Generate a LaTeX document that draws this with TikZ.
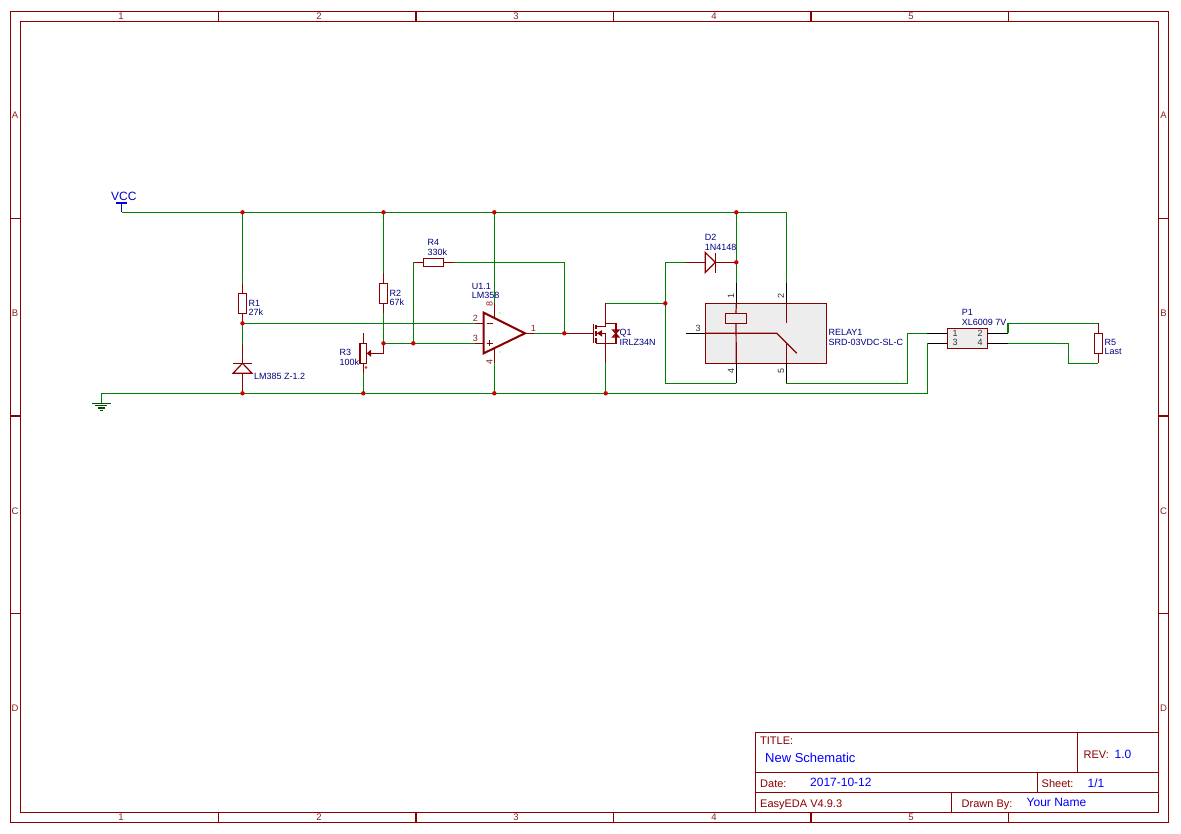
\documentclass[tikz,border=0pt]{standalone}
\usepackage{fontspec}
\setmainfont{Liberation Sans}
\usetikzlibrary{calc}
\definecolor{wiregreen}{HTML}{008000}
\definecolor{partred}{HTML}{880000}
\definecolor{dotred}{HTML}{CC0000}
\definecolor{labelblue}{HTML}{000080}
\definecolor{titleblue}{HTML}{0000FF}
\definecolor{pinred}{HTML}{8C2020}
\tikzset{wire/.style={color=wiregreen, line width=1.2pt},
lead/.style={color=partred, line width=1.2pt},
pinline/.style={color=black, line width=1.2pt},
junction/.style={circle,fill=dotred,inner sep=0pt,minimum size=4.4pt},
resv/.style={rectangle,draw=partred,line width=1.2pt,inner sep=0pt,outer sep=0pt,minimum width=8pt,minimum height=20pt},
resh/.style={resv,minimum width=20pt,minimum height=8pt},
chip/.style={resv,fill=black!7},
faint/.style={rectangle,fill=green!25!white,inner sep=0pt,minimum size=2pt},
txt/.style={inner sep=0pt,anchor=base west,text=labelblue,font=\fontsize{9}{9}\selectfont},
pin/.style={txt,text=pinred},
blackpin/.style={txt,text=black!80},
vpin/.style={pin,anchor=center,rotate=90},
vblack/.style={blackpin,anchor=center,rotate=90},
edge/.style={inner sep=0pt,text=pinred,font=\fontsize{9.5}{9.5}\selectfont},
sheet/.style={txt,text=partred,font=\fontsize{11}{11}\selectfont},
entry/.style={txt,text=titleblue,font=\fontsize{12}{12}\selectfont},
frame/.style={draw=partred,line width=1.2pt}}
\begin{document}
\begin{tikzpicture}[x=1pt,y=-1pt]
  \useasboundingbox (0,0) rectangle (1181,833);
  \draw [frame] (10.5,11.5) rectangle (1168.5,822.5);
  \draw [frame] (20.5,21.5) rectangle (1158.5,812.5);
  \foreach \x in {218.5,416,613.5,811,1008.5} {
    \draw [frame] (\x,11.5) -- (\x,21.5);
    \draw [frame] (\x,812.5) -- (\x,822.5);
  }
  \foreach \y in {218.5,416,613.5} {
    \draw [frame] (10.5,\y) -- (20.5,\y);
    \draw [frame] (1158.5,\y) -- (1168.5,\y);
  }
  \foreach \n/\x in {1/121,2/319,3/516,4/714,5/911} {
    \node (top\n) [edge] at (\x,16.5) {\n};
    \node (bot\n) [edge] at (\x,817.5) {\n};
  }
  \foreach \n/\y in {A/115.5,B/313.5,C/511,D/708.5} {
    \node (left\n) [edge] at (15,\y) {\n};
    \node (right\n) [edge] at (1163.5,\y) {\n};
  }

  \draw [frame,fill=white] (755.5,732.5) rectangle (1158.5,812.5);
  \draw [frame] (755.5,772.5) -- (1158.5,772.5);
  \draw [frame] (755.5,792.5) -- (1158.5,792.5);
  \draw [frame] (1077.5,732.5) -- (1077.5,772.5);
  \draw [frame] (1037.5,772.5) -- (1037.5,792.5);
  \draw [frame] (951.5,792.5) -- (951.5,812.5);
  \node (title) [sheet] at (760,744) {TITLE:};
  \node (name) [entry,font=\fontsize{13}{13}\selectfont] at (765,762) {New Schematic};
  \node (rev) [sheet] at (1083.5,758) {REV:};
  \node (revno) [entry] at (1114.5,758) {1.0};
  \node (date) [sheet] at (760,787) {Date:};
  \node (dateval) [entry] at (810,786.5) {2017-10-12};
  \node (sheetno) [sheet] at (1041.5,787) {Sheet:};
  \node (sheetval) [entry] at (1087.5,787) {1/1};
  \node (tool) [sheet] at (760,807) {EasyEDA V4.9.3};
  \node (drawn) [sheet] at (961.5,807) {Drawn By:};
  \node (author) [entry] at (1026.5,806.5) {Your Name};

  \coordinate (vcc) at (121.5,203);
  \coordinate (vccb) at (121.5,212.3);
  \coordinate (gnd) at (101.3,393.3);
  \coordinate (gndb) at (101.3,403.3);
  \coordinate (j1) at (242.5,212.3);
  \coordinate (j2) at (383.5,212.3);
  \coordinate (j3) at (494.3,212.3);
  \coordinate (j4) at (736.3,212.3);
  \coordinate (j5) at (242.5,323.3);
  \coordinate (j6) at (383.5,343.3);
  \coordinate (j7) at (413.3,343.3);
  \coordinate (j8) at (564.3,333.3);
  \coordinate (j9) at (665.3,303.3);
  \coordinate (j10) at (736.3,262.3);
  \coordinate (j11) at (242.5,393.3);
  \coordinate (j12) at (363.3,393.3);
  \coordinate (j13) at (494.3,393.3);
  \coordinate (j14) at (605.7,393.3);

  \draw [blue!80!black,line width=1.2pt] (vcc) -- (vccb);
  \draw [blue!80!black,line width=1.2pt] ($(vcc)+(-5.5,0)$) -- ($(vcc)+(5.5,0)$);
  \node (vcclabel) [txt,text=blue!80!black,font=\fontsize{12}{12}\selectfont] at (111,200) {VCC};
  \draw [wire] (gndb) -- (gnd);
  \draw [lead,color=black!70!green] ($(gndb)+(-9.5,0)$) -- ($(gndb)+(9.5,0)$);
  \draw [lead,color=black!70!green] ($(gndb)+(-6,2.4)$) -- ($(gndb)+(6,2.4)$);
  \draw [lead,color=black!70!green] ($(gndb)+(-3.5,4.6)$) -- ($(gndb)+(3.5,4.6)$);
  \draw [lead,color=black!70!green] ($(gndb)+(-1.6,6.8)$) -- ($(gndb)+(1.6,6.8)$);

  \node (r1) [resv] at (242.5,303.3) {};
  \draw [lead] (r1.north) -- ++(0,-9.3) coordinate (r1a);
  \draw [lead] (r1.south) -- (j5);
  \node (r1n) [txt] at (248.5,306) {R1};
  \node (r1v) [txt] at (248.5,315) {27k};
  \coordinate (z1) at (242.5,363.3);
  \coordinate (z1a) at (242.5,344);
  \draw [lead] (z1a) -- (z1);
  \draw [lead] ($(z1)+(-9.5,0)$) -- ($(z1)+(9.5,0)$);
  \draw [lead] (z1) -- ($(z1)+(-9.5,10)$) -- ($(z1)+(9.5,10)$) -- cycle;
  \draw [lead] ($(z1)+(0,10)$) -- (j11);
  \node (z1n) [txt] at (254,379.3) {LM385 Z-1.2};

  \node (r2) [resv] at (383.5,293.3) {};
  \draw [lead] (r2.north) -- ++(0,-10) coordinate (r2a);
  \draw [lead] (r2.south) -- ++(0,9.4) coordinate (r2b);
  \node (r2n) [txt] at (389.3,296) {R2};
  \node (r2v) [txt] at (389.3,305) {67k};
  \node (r3) [resv,minimum width=6.7pt] at (363.3,353.3) {};
  \draw [lead] (r3.north) -- ++(0,-10);
  \draw [lead] (r3.south) -- ++(0,9.7) coordinate (r3b);
  \coordinate (r3w) at (383.5,353.3);
  \draw [lead] (j6) -- (r3w) -- (370.5,353.3);
  \fill [partred] (366.7,353.3) -- (371,349.8) -- (371,356.8) -- cycle;
  \node (r3dot) [circle,draw=dotred,line width=.5pt,inner sep=0pt,minimum size=2pt] at (366,367.4) {};
  \node (r3n) [txt] at (339.3,355.7) {R3};
  \node (r3v) [txt] at (339.3,365) {100k};

  \node (r4) [resh] at (433.5,262.3) {};
  \draw [lead] (r4.west) -- ++(-10,0) coordinate (r4a);
  \draw [lead] (r4.east) -- ++(10,0) coordinate (r4b);
  \node (r4n) [txt] at (427.3,245.7) {R4};
  \node (r4v) [txt] at (427.3,255) {330k};

  \coordinate (u1a) at (483.7,312.7);
  \coordinate (u1b) at (525,333.3);
  \coordinate (u1c) at (483.7,353.3);
  \coordinate (u1p2) at (475,323.3);
  \coordinate (u1p3) at (475,343.3);
  \coordinate (u1p1) at (533.5,333.3);
  \coordinate (u1p8) at (494.3,303.3);
  \coordinate (u1p4) at (494.3,363.3);
  \draw [lead] (u1p2) -- (483.7,323.3);
  \draw [lead] (u1p3) -- (483.7,343.3);
  \draw [lead] (u1b) -- (u1p1);
  \draw [lead] (u1p8) -- (494.3,318);
  \draw [lead] (u1p4) -- (494.3,348);
  \draw [lead,line width=2pt] (u1a) -- (u1b) -- (u1c) -- cycle;
  \draw [lead] (486.5,323.3) -- (492.5,323.3);
  \draw [lead] (486.5,343.3) -- (492.5,343.3);
  \draw [lead] (489.5,340.3) -- (489.5,346.3);
  \node (u1n) [txt] at (471.7,289) {U1.1};
  \node (u1v) [txt] at (471.7,298) {LM358};
  \node (pin2) [pin] at (472.7,321.7) {2};
  \node (pin3) [pin] at (472.7,341.7) {3};
  \node (pin1) [pin] at (530.7,331.7) {1};
  \node (pin8) [vpin] at (489.5,304) {8};
  \node (pin4) [vpin] at (489.5,361.5) {4};
  \node (mark8) [faint] at (500,312.5) {};
  \node (mark4) [faint] at (500,351.5) {};

  \coordinate (q1g) at (593.3,333.3);
  \coordinate (q1d) at (605.7,303.3);
  \coordinate (q1s) at (605.7,363);
  \draw [lead] (j8) -- (q1g);
  \draw [lead] (593.3,324) -- (593.3,343);
  \draw [lead] (596,324.5) -- (596,329);
  \draw [lead] (596,331) -- (596,336);
  \draw [lead] (596,338) -- (596,343);
  \draw [lead] (596,326.5) -- (605.7,326.5);
  \draw [lead] (q1d) -- (605.7,326.5);
  \draw [lead] (596,343.3) -- (605.7,343.3) -- (q1s);
  \draw [lead] (596,333.3) -- (605.7,333.3) -- (605.7,343.3);
  \fill [partred] (597,333.3) -- (602,330) -- (602,336.6) -- cycle;
  \draw [lead] (605.7,323.3) -- (616,323.3) -- (616,343.3) -- (605.7,343.3);
  \draw [lead] (612.7,330) -- (618.9,330) -- (612.7,337) -- (618.9,337) -- cycle;
  \node (q1n) [txt] at (619.5,335.7) {Q1};
  \node (q1v) [txt] at (619.5,345) {IRLZ34N};

  \coordinate (d2a) at (705.3,262.3);
  \coordinate (d2k) at (715.3,262.3);
  \draw [lead] (686,262.3) coordinate (d2l) -- (d2a);
  \draw [lead] (705.3,252.5) -- (d2k) -- (705.3,272.5) -- cycle;
  \draw [lead] (715.3,252.5) -- (715.3,272.5);
  \draw [lead] (d2k) -- (j10);
  \node (d2n) [txt] at (704.7,240.7) {D2};
  \node (d2v) [txt] at (704.7,250) {1N4148};

  \node (relay) [chip,minimum width=121pt,minimum height=60pt] at (765.8,333.3) {};
  \coordinate (rp1) at (736.3,283);
  \coordinate (rp2) at (786.3,283);
  \coordinate (rp3) at (686,333.3);
  \coordinate (rp4) at (736.3,383.3);
  \coordinate (rp5) at (786.3,383.3);
  \draw [pinline] (rp1) -- (736.3,303.3);
  \draw [pinline] (rp2) -- (786.3,303.3);
  \draw [pinline] (rp3) -- (705.3,333.3);
  \draw [pinline] (rp4) -- (736.3,363.3);
  \draw [pinline] (rp5) -- (786.3,363.3);
  \node (coil) [resh,minimum width=21.4pt,minimum height=10pt] at (736,318.3) {};
  \draw [lead] (736.3,303.3) -- (coil.north);
  \draw [lead] (coil.south) -- (736.3,363.3);
  \draw [lead] (786.3,303.3) -- (786.3,323.3);
  \draw [lead] (705.3,333.3) -- (776.7,333.3) -- (796.7,353.3);
  \draw [lead] (786.3,343.3) -- (786.3,363.3);
  \node (relay1) [vblack] at (731,296) {1};
  \node (relay2) [vblack] at (781,296) {2};
  \node (relay3) [blackpin] at (695.3,331.7) {3};
  \node (relay4) [vblack] at (731,371) {4};
  \node (relay5) [vblack] at (781,371) {5};
  \node (relayn) [txt] at (828.3,335.7) {RELAY1};
  \node (relayv) [txt] at (828.3,345) {SRD-03VDC-SL-C};

  \node (p1) [chip,minimum width=40pt,minimum height=20pt] at (967.3,338.3) {};
  \coordinate (p1a) at (927.3,333.3);
  \coordinate (p1b) at (927.3,343.3);
  \coordinate (p1c) at (1007.7,333.3);
  \coordinate (p1d) at (1007.7,343.3);
  \draw [pinline] (p1a) -- (947.3,333.3);
  \draw [pinline] (p1b) -- (947.3,343.3);
  \draw [pinline] (987.3,333.3) -- (p1c);
  \draw [pinline] (987.3,343.3) -- (p1d);
  \node (p1one) [blackpin] at (952.3,336) {1};
  \node (p1three) [blackpin] at (952.3,345.7) {3};
  \node (p1two) [blackpin] at (977.3,336) {2};
  \node (p1four) [blackpin] at (977.3,345.7) {4};
  \node (p1n) [txt] at (961.7,315.7) {P1};
  \node (p1v) [txt] at (961.7,325) {XL6009 7V};

  \node (r5) [resv] at (1098.3,343.3) {};
  \draw [lead] (r5.north) -- ++(0,-10) coordinate (r5a);
  \draw [lead] (r5.south) -- ++(0,10) coordinate (r5b);
  \node (r5n) [txt] at (1104.3,345.3) {R5};
  \node (r5v) [txt] at (1104.3,354.7) {Last};

  \draw [wire] (vccb) -- (j1) -- (j2) -- (j3) -- (j4) -| (rp2);
  \draw [wire] (j1) -- (r1a);
  \draw [wire] (j5) -- (z1a);
  \draw [wire] (j2) -- (r2a);
  \draw [wire] (r2b) -- (j6);
  \draw [wire] (j5) -- (u1p2);
  \draw [wire] (j6) -- (j7) -- (u1p3);
  \draw [wire] (j7) |- (r4a);
  \draw [wire] (r4b) -| (j8);
  \draw [wire] (u1p1) -- (j8);
  \draw [wire] (j3) -- (u1p8);
  \draw [wire] (u1p4) -- (j13);
  \draw [wire] (r3b) -- (j12);
  \draw [wire] (q1s) -- (j14);
  \draw [wire] (q1d) -- (j9);
  \draw [wire] (j4) -- (rp1);
  \draw [wire] (rp4) -| (j9) |- (d2l);
  \draw [wire] (rp5) -| (907.3,333.3) -- (p1a);
  \draw [wire] (gnd) -- (j11) -- (j12) -- (j13) -- (j14) -| (p1b);
  \draw [wire,line width=1.8pt] (p1c) -- (1007.7,323.3);
  \draw [wire] (1007.7,323.3) -- (r5a);
  \draw [wire] (p1d) -| (1068.3,363.3) -- (r5b);

  \foreach \j in {j1,j2,j3,j4,j5,j6,j7,j8,j9,j10,j11,j12,j13,j14}
    \node (dot\j) [junction] at (\j) {};
\end{tikzpicture}
\end{document}
